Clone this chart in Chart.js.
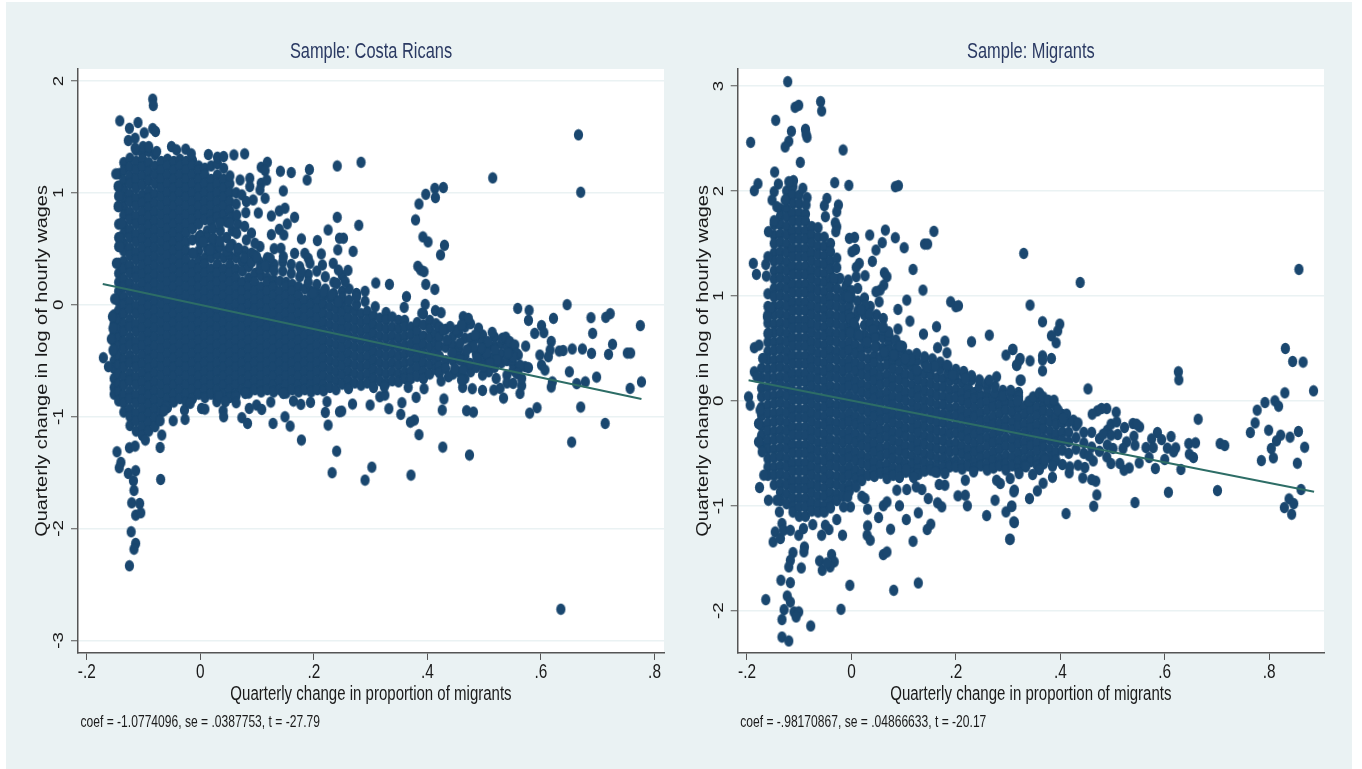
<!DOCTYPE html>
<html>
<head>
<meta charset="utf-8">
<title>Quarterly change in wages and migrants</title>
<script src="https://cdn.jsdelivr.net/npm/chart.js@4/dist/chart.umd.min.js"></script>
<style>
html, body { margin: 0; padding: 0; background: #fff; overflow: hidden; }
#bg { position: absolute; left: 6px; top: 2px; width: 1346px; height: 767px; background: #eaf2f3; }
canvas { position: absolute; top: 0; }
#leftChart { left: 0; }
#rightChart { left: 680px; }
</style>
</head>
<body>
<div id="bg"></div>
<canvas id="leftChart" width="680" height="769"></canvas>
<canvas id="rightChart" width="682" height="769"></canvas>
<script>
const xTickValues = [-0.2, 0, 0.2, 0.4, 0.6, 0.8];
const xTickLabels = ['-.2', '0', '.2', '.4', '.6', '.8'];
const crYTicks = [-3, -2, -1, 0, 1, 2];
const mgYTicks = [-2, -1, 0, 1, 2, 3];
const crTitle = 'Sample: Costa Ricans';
const mgTitle = 'Sample: Migrants';
const crNote = 'coef = -1.0774096, se = .0387753, t = -27.79';
const mgNote = 'coef = -.98170867, se = .04866633, t = -20.17';
const crFit = [[-0.172, 0.185], [0.777, -0.843]];
const mgFit = [[-0.197, 0.197], [0.886, -0.867]];

// dense part of the cloud, each row is x then the y values at that x
const crColumns = [
[-.152,-.09,-.17,-.26,-.33,-.42,-.5,-.57,-.66,-.74,-.8],
[-.144,1.17,1.06,.97,.88,.72,.6,.52,.37,.28,.2,.12,.03,-.05,-.13,-.22,-.3,-.37,-.46,-.54,-.62,-.71,-.78,-.86],
[-.135,1.27,1.2,1.11,1.03,.95,.87,.8,.71,.64,.55,.48,.39,.32,.23,.16,.07,0,-.08,-.17,-.24,-.33,-.4,-.49,-.56,-.65,-.72,-.81,-.88,-.96],
[-.124,1.31,1.23,1.15,1.08,.99,.92,.83,.76,.67,.6,.51,.44,.35,.28,.19,.12,.03,-.04,-.13,-.2,-.29,-.36,-.45,-.52,-.61,-.68,-.77,-.84,-.93,-1,-1.08],
[-.113,1.38,1.28,1.2,1.12,1.04,.95,.88,.79,.72,.63,.56,.47,.4,.31,.24,.15,.08,-.01,-.08,-.17,-.24,-.33,-.4,-.49,-.56,-.65,-.72,-.81,-.88,-.97,-1.04,-1.13],
[-.102,1.36,1.3,1.23,1.15,1.07,.98,.91,.83,.75,.67,.59,.51,.43,.35,.27,.19,.11,.03,-.05,-.13,-.21,-.29,-.37,-.45,-.53,-.61,-.69,-.77,-.85,-.93,-1.01,-1.09,-1.17],
[-.091,1.37,1.27,1.19,1.11,1.02,.95,.87,.79,.71,.63,.55,.47,.39,.31,.23,.15,.07,-.01,-.09,-.17,-.25,-.33,-.41,-.49,-.57,-.65,-.73,-.81,-.89,-.97,-1.05,-1.13],
[-.08,1.34,1.24,1.16,1.08,.99,.91,.83,.75,.67,.59,.51,.43,.35,.27,.19,.11,.03,-.05,-.13,-.21,-.29,-.37,-.45,-.53,-.61,-.69,-.77,-.85,-.93,-1.01,-1.09],
[-.069,1.28,1.2,1.12,1.04,.96,.88,.8,.72,.64,.56,.48,.4,.32,.24,.16,.08,0,-.08,-.16,-.24,-.32,-.4,-.48,-.56,-.64,-.72,-.8,-.88,-.96],
[-.058,1.3,1.24,1.16,1.08,1,.92,.84,.76,.68,.6,.52,.44,.36,.28,.2,.12,.04,-.04,-.12,-.2,-.28,-.36,-.44,-.52,-.6,-.68,-.76,-.84,-.92],
[-.047,1.28,1.2,1.12,1.04,.96,.88,.8,.72,.64,.56,.48,.4,.32,.24,.16,.08,0,-.08,-.16,-.24,-.32,-.4,-.48,-.56,-.64,-.72,-.8,-.87],
[-.036,1.3,1.24,1.16,1.08,1,.92,.84,.76,.68,.6,.52,.44,.36,.28,.2,.12,.04,-.04,-.12,-.2,-.28,-.36,-.44,-.52,-.6,-.68,-.76,-.84],
[-.025,1.28,1.2,1.12,1.04,.96,.88,.8,.72,.64,.56,.48,.4,.32,.24,.16,.08,0,-.08,-.16,-.24,-.32,-.4,-.48,-.56,-.64,-.72,-.8,-.87],
[-.014,1.29,1.24,1.16,1.08,1,.92,.84,.76,.68,.58,.46,.36,.28,.2,.12,.04,-.04,-.12,-.2,-.28,-.36,-.44,-.52,-.6,-.68,-.76,-.84],
[-.003,1.24,1.2,1.12,1.04,.96,.88,.8,.72,.6,.48,.4,.32,.24,.16,.08,0,-.08,-.16,-.24,-.32,-.4,-.48,-.56,-.64,-.72,-.8],
[.008,1.22,1.16,1.08,1,.92,.84,.76,.42,.36,.28,.2,.12,.04,-.04,-.12,-.2,-.28,-.36,-.44,-.52,-.6,-.68,-.76,-.83],
[.019,1.24,1.12,1.04,.96,.88,.8,.74,.42,.32,.24,.16,.08,0,-.08,-.16,-.24,-.32,-.4,-.48,-.56,-.64,-.72,-.8],
[.03,1.26,1.16,1.08,1,.92,.84,.78,.45,.36,.28,.2,.12,.04,-.04,-.12,-.2,-.28,-.36,-.44,-.52,-.6,-.68,-.76,-.84],
[.041,1.22,1.12,1.04,.96,.88,.8,.42,.32,.24,.16,.08,0,-.08,-.16,-.24,-.32,-.4,-.48,-.56,-.64,-.72,-.8],
[.052,1.08,1,.92,.84,.44,.36,.28,.2,.12,.04,-.04,-.12,-.2,-.28,-.36,-.44,-.52,-.6,-.68,-.76,-.83],
[.063,1.0,.9,.42,.32,.24,.16,.08,0,-.08,-.16,-.24,-.32,-.4,-.48,-.56,-.64,-.72,-.8],
[.074,.38,.3,.2,.12,.04,-.04,-.12,-.2,-.28,-.36,-.44,-.52,-.6,-.68,-.76],
[.085,.34,.24,.16,.08,0,-.08,-.16,-.24,-.32,-.4,-.48,-.56,-.64,-.72,-.79],
[.096,.28,.2,.12,.04,-.04,-.12,-.2,-.28,-.36,-.44,-.52,-.6,-.68,-.76],
[.107,.26,.16,.08,0,-.08,-.16,-.24,-.32,-.4,-.48,-.56,-.64,-.72,-.78],
[.118,.24,.2,.12,.04,-.04,-.12,-.2,-.28,-.36,-.44,-.52,-.6,-.68,-.76],
[.129,.22,.16,.08,0,-.08,-.16,-.24,-.32,-.4,-.48,-.56,-.64,-.72,-.78],
[.14,.21,.12,.04,-.04,-.12,-.2,-.28,-.36,-.44,-.52,-.6,-.68,-.76],
[.151,.2,.16,.08,0,-.08,-.16,-.24,-.32,-.4,-.48,-.56,-.64,-.72,-.79],
[.162,.18,.12,.04,-.04,-.12,-.2,-.28,-.36,-.44,-.52,-.6,-.68,-.76],
[.173,.16,.08,0,-.08,-.16,-.24,-.32,-.4,-.48,-.56,-.64,-.72,-.78],
[.184,.14,.04,-.04,-.12,-.2,-.28,-.36,-.44,-.52,-.6,-.68,-.76],
[.195,.12,.08,0,-.08,-.16,-.24,-.32,-.4,-.48,-.56,-.64,-.72,-.78],
[.206,.1,.04,-.04,-.12,-.2,-.28,-.36,-.44,-.52,-.6,-.68,-.76],
[.217,.08,0,-.08,-.16,-.24,-.32,-.4,-.48,-.56,-.64,-.72,-.77],
[.228,.06,-.02,-.1,-.18,-.26,-.34,-.42,-.5,-.58,-.66,-.74],
[.239,.04,-.04,-.12,-.2,-.28,-.36,-.44,-.52,-.6,-.68,-.76],
[.25,.01,-.07,-.15,-.23,-.31,-.39,-.47,-.55,-.63,-.71],
[.261,-.04,-.12,-.2,-.28,-.36,-.44,-.52,-.6,-.68,-.75],
[.272,-.06,-.14,-.22,-.3,-.38,-.46,-.54,-.62,-.7],
[.283,-.08,-.16,-.24,-.32,-.4,-.48,-.56,-.64,-.72],
[.294,-.06,-.14,-.22,-.3,-.38,-.46,-.54,-.62,-.7],
[.305,-.1,-.18,-.26,-.34,-.42,-.5,-.58,-.66,-.74],
[.316,-.12,-.2,-.28,-.36,-.44,-.52,-.6,-.68],
[.327,-.07,-.14,-.22,-.3,-.38,-.46,-.54,-.62,-.7],
[.338,-.11,-.2,-.28,-.36,-.44,-.52,-.6,-.68],
[.349,-.14,-.22,-.3,-.38,-.46,-.54,-.62,-.69],
[.36,-.14,-.2,-.28,-.36,-.44,-.52,-.6,-.66],
[.371,-.2,-.27,-.35,-.43,-.51,-.59,-.66],
[.382,-.16,-.24,-.32,-.4,-.48,-.56,-.64],
[.393,-.08,-.18,-.28,-.36,-.44,-.52,-.6,-.66],
[.404,-.14,-.22,-.3,-.38,-.46,-.54,-.62],
[.415,-.17,-.26,-.34,-.42,-.5,-.58],
[.421,-.2,-.29,-.37,-.46,-.55,-.61],
[.432,-.22,-.38,-.5,-.57],
[.445,-.28,-.36,-.5,-.62],
[.455,-.25,-.4,-.47,-.6],
[.466,-.2,-.3,-.46,-.55,-.66],
[.476,-.17,-.3,-.38,-.6],
[.486,-.3,-.44,-.56],
[.497,-.27,-.34,-.47,-.5],
[.508,-.38,-.48,-.6],
[.518,-.29,-.37,-.46,-.56],
[.53,-.35,-.44,-.52],
[.54,-.38,-.5,-.63,-.7],
[.55,-.4,-.52],
[.56,-.45,-.58],
[0,.62,.55],
[.012,.66,.6,.5],
[.022,.68,.5,.56],
[.035,.66,.52],
[.046,.74,.6,.48],
[.056,.78,.66,.54],
[.066,.72,.48],
[.078,.7,.48,.42],
[.09,.64,.46,.38],
[.105,.52,.38,.32],
[.118,.42,.33],
[.13,.5,.36,.3],
[.145,.38,.3],
[.16,.36,.28],
[.175,.34,.25],
[.19,.27,.2],
[.205,.3,.18],
[.22,.25,.14],
[.235,.2,.1],
[.25,.26,.12,.06],
[.262,.14,.04],
[.275,.1,0],
[.29,.03]
];

// points that stand apart from the dense part
const crOutliersX = [.666,.67,.515,.283,.428,.413,.414,.397,.385,.379,.392,.401,.43,.423,.383,.388,.394,.397,.413,.279,.252,.269,.26,.255,.309,.333,.29,.275,.363,.359,.308,.396,.414,.424,.39,.559,.579,.578,.646,.622,.688,.722,.714,.601,.605,.589,.775,.691,.726,.618,.573,.655,.673,.632,.639,.689,.719,.752,.758,.616,.613,.598,.601,.607,.65,.698,.678,.663,.62,.618,.777,.757,.67,.593,.58,.713,.654,.474,.427,.385,.377,.37,.353,.332,.299,.268,.249,.355,.38,.429,.426,.469,.481,.534,.563,.566,.551,.479,.497,.517,.528,.462,.394,.366,.316,.325,.324,.437,.424,.497,.521,
.463,.472,.49,.514,.506,.484,.532,.538,.545,.554,.557,.551,.542,.519,.522,.504,.495,.481,.469,.457,.451,.46,.44,.428,.434,.443,.457,.475,.487,.448,.463,.46,.498,.51,.551,.572,.578,.563,.557,.566,
-.084,-.083,-.142,-.11,-.084,-.079,-.099,-.125,-.127,-.115,-.101,-.091,-.115,-.051,-.042,-.026,-.016,.014,.03,.041,.059,.078,-.077,.107,.118,.114,.141,.16,.192,.188,.241,.087,.087,.107,.117,.105,.114,.093,.146,.052,.07,.073,.081,.08,.102,.125,.139,.149,.166,.153,.139,.147,.125,.178,.206,.225,.241,.245,.064,.081,.096,.052,.034,.064,.052,.067,.096,.099,.023,.034,-.001,.017,.005,-.013,.142,.166,.184,.213,.19,.193,.215,.234,.242,.123,.146,.114,.178,.243,.24,.217,.231,.243,.199,
-.149,-.145,-.143,-.145,-.139,-.142,-.142,-.148,-.151,-.155,-.154,-.157,-.171,-.162,-.154,
-.147,-.14,-.143,-.127,-.114,-.118,-.117,-.121,-.107,-.114,-.105,-.122,-.114,-.117,-.125,-.07,-.071,-.068,-.125,-.115,-.097,-.071,-.061,-.064,-.048,-.027,-.028,-.018,.002,.008,.029,.032,.044,.04,.041,.062,.063,.079,.073,.083,.086,.099,.108,.124,.128,.149,.158,.164,.177,.194,.178,.22,.225,.223,.24,.232,.146,.245,.29,.302,.371,.635];
const crOutliersY = [1.518,1.005,1.133,1.273,1.047,1.04,.957,.987,.9,.758,.606,.561,.531,.445,.343,.31,.295,.182,.137,.71,.594,.477,.307,.206,.194,.182,.12,.072,.072,-.024,-.018,.003,-.053,-.071,-.077,-.033,-.05,-.14,0,-.122,-.116,-.08,-.113,-.187,-.25,-.256,-.187,-.256,-.354,-.328,-.37,-.396,-.396,-.414,-.41,-.435,-.444,-.432,-.432,-.405,-.465,-.45,-.54,-.584,-.6,-.647,-.69,-.706,-.69,-.736,-.69,-.748,-.915,-.921,-.969,-1.061,-1.228,-1.344,-1.273,-1.162,-1.031,-1.05,-.98,-.93,-.897,-.888,-.951,-.876,-.828,-.843,-.942,-.948,-.96,-.835,-.793,-.724,-.703,-.751,-.766,-.763,-.748,-.739,-.751,-.739,-.823,-.808,-.733,-.644,-.682,-.629,-.659,
-.107,-.122,-.21,-.247,-.33,-.27,-.3,-.29,-.33,-.36,-.435,-.465,-.435,-.405,-.495,-.435,-.39,-.375,-.405,-.345,-.227,-.18,-.195,-.227,-.315,-.435,-.495,-.525,-.48,-.57,-.584,-.673,-.554,-.525,-.584,-.554,-.563,-.54,-.614,-.659,
1.837,1.78,1.643,1.628,1.574,1.548,1.536,1.577,1.467,1.488,1.413,1.413,1.4,1.413,1.384,1.39,1.348,1.342,1.318,1.324,1.339,1.348,1.369,1.229,1.273,1.199,1.193,1.181,1.208,1.115,1.24,1.13,1.056,1.085,1.115,1.026,.951,.936,1.017,1.151,1.115,.981,.922,.823,.82,.793,.838,.862,.781,.722,.674,.623,.626,.588,.573,.668,.781,.594,.638,.579,.549,.728,.728,.802,.519,.504,.444,.43,.594,.573,.608,.489,.564,.459,.504,.459,.459,.454,.415,.37,.355,.37,.49,.415,.43,.349,.295,.31,.19,.117,.087,.027,.102,
1.169,1.056,.975,.877,.728,.594,.519,.37,.051,-.107,-.211,-.307,-.474,-.554,-.405,
-1.315,-1.41,-1.458,-1.508,-1.484,-1.574,-1.66,-1.771,-1.777,-1.881,-1.86,-2.03,-2.134,-2.185,-2.334,-1.562,-1.276,-1.165,-1.279,-1.264,-1.21,-1.037,-.912,-.948,-1.037,-1.025,-.942,-.882,-.927,-.933,-.867,-.817,-.867,-.948,-1.002,-.823,-.876,-.793,-1.01,-1.061,-.927,-.897,-.936,-.87,-1.061,-1.002,-1.085,-.861,-.891,-.873,-1.21,-.963,-1.076,-.867,-1.309,-1.502,-.793,-.957,-1.568,-1.452,-1.523,-2.722];

const mgColumns = [
[-.172,.31,.22,.12,.04,-.06,-.14,-.24,-.33,-.42],
[-.16,1.02,.9,.82,.74,.64,.56,.47,.39,.3,.22,.13,.05,-.04,-.12,-.21,-.29,-.38,-.46,-.55,-.63,-.71],
[-.148,1.68,1.58,1.5,1.41,1.33,1.24,1.16,1.07,.99,.9,.82,.73,.65,.56,.48,.39,.31,.22,.14,.05,-.03,-.12,-.2,-.29,-.37,-.46,-.54,-.63,-.71,-.8],
[-.136,1.83,1.76,1.68,1.59,1.51,1.42,1.34,1.25,1.17,1.08,1,.91,.83,.74,.66,.57,.49,.4,.32,.23,.15,.06,-.02,-.11,-.19,-.28,-.36,-.45,-.53,-.62,-.7,-.79,-.87,-.95],
[-.124,2,1.92,1.83,1.75,1.66,1.58,1.49,1.41,1.32,1.24,1.15,1.07,.98,.9,.81,.73,.64,.56,.47,.39,.3,.22,.13,.05,-.04,-.12,-.21,-.29,-.38,-.46,-.55,-.63,-.72,-.8,-.89,-.98],
[-.112,2.04,1.96,1.88,1.79,1.71,1.62,1.54,1.45,1.37,1.28,1.2,1.11,1.03,.94,.86,.77,.69,.6,.52,.43,.35,.26,.18,.09,.01,-.08,-.16,-.25,-.33,-.42,-.5,-.59,-.67,-.76,-.84,-.93,-1.01,-1.06],
[-.1,1.96,1.88,1.79,1.71,1.62,1.54,1.45,1.37,1.28,1.2,1.11,1.03,.94,.86,.77,.69,.6,.52,.43,.35,.26,.18,.09,.01,-.08,-.16,-.25,-.33,-.42,-.5,-.59,-.67,-.76,-.84,-.93,-1.01,-1.1],
[-.088,1.78,1.71,1.62,1.54,1.45,1.37,1.28,1.2,1.11,1.03,.94,.86,.77,.69,.6,.52,.43,.35,.26,.18,.09,.01,-.08,-.16,-.25,-.33,-.42,-.5,-.59,-.67,-.76,-.84,-.93,-1.01,-1.1],
[-.076,1.66,1.58,1.5,1.41,1.33,1.24,1.16,1.07,.99,.9,.82,.73,.65,.56,.48,.39,.31,.22,.14,.05,-.03,-.12,-.2,-.29,-.37,-.46,-.54,-.63,-.71,-.8,-.88,-.97,-1.05],
[-.064,1.65,1.56,1.47,1.39,1.3,1.22,1.13,1.05,.96,.88,.79,.71,.62,.54,.45,.37,.28,.2,.11,.03,-.06,-.14,-.23,-.31,-.4,-.48,-.57,-.65,-.74,-.82,-.91,-.99,-1.06],
[-.052,1.56,1.47,1.38,1.3,1.21,1.13,1.04,.96,.87,.79,.7,.62,.53,.45,.36,.28,.19,.11,.02,-.06,-.15,-.23,-.32,-.4,-.49,-.57,-.66,-.74,-.83,-.91,-1,-1.06],
[-.04,1.5,1.42,1.33,1.25,1.16,1.08,.99,.91,.82,.74,.65,.57,.48,.4,.31,.23,.14,.06,-.03,-.11,-.2,-.28,-.37,-.45,-.54,-.62,-.71,-.79,-.88,-.96,-1.02],
[-.028,1.36,1.27,1.16,1.07,.98,.9,.81,.73,.64,.56,.47,.39,.3,.22,.13,.05,-.04,-.12,-.21,-.29,-.38,-.46,-.55,-.63,-.72,-.8,-.89,-.95],
[-.016,1.04,.96,.87,.79,.7,.62,.53,.45,.36,.28,.19,.11,.02,-.06,-.15,-.23,-.32,-.4,-.49,-.57,-.66,-.74,-.83,-.91],
[-.004,.9,.82,.73,.65,.56,.48,.39,.31,.22,.14,.05,-.03,-.12,-.2,-.29,-.37,-.46,-.54,-.63,-.71,-.8,-.86],
[.008,.8,.7,.62,.53,.45,.36,.28,.19,.11,.02,-.06,-.15,-.23,-.32,-.4,-.49,-.57,-.66,-.74],
[.02,.6,.5,.42,.33,.25,.16,.08,-.01,-.09,-.18,-.26,-.35,-.43,-.52,-.6,-.69,-.76],
[.032,.5,.4,.31,.23,.14,.06,-.03,-.11,-.2,-.28,-.37,-.45,-.54,-.62,-.71],
[.044,.43,.36,.27,.19,.1,.02,-.07,-.15,-.24,-.32,-.41,-.49,-.58,-.66,-.72],
[.056,.42,.32,.23,.15,.06,-.02,-.11,-.19,-.28,-.36,-.45,-.53,-.62,-.69],
[.068,.41,.34,.25,.17,.08,0,-.09,-.17,-.26,-.34,-.43,-.51,-.6,-.68,-.74],
[.08,.38,.3,.21,.13,.04,-.04,-.13,-.21,-.3,-.38,-.47,-.55,-.64,-.71],
[.092,.37,.28,.2,.11,.03,-.06,-.14,-.23,-.31,-.4,-.48,-.57,-.65,-.73],
[.104,.34,.25,.17,.08,0,-.09,-.17,-.26,-.34,-.43,-.51,-.6,-.68],
[.116,.32,.24,.15,.07,-.02,-.1,-.19,-.27,-.36,-.44,-.53,-.61,-.69],
[.128,.28,.2,.11,.03,-.06,-.14,-.23,-.31,-.4,-.48,-.57,-.65,-.7],
[.14,.26,.17,.09,0,-.08,-.17,-.25,-.34,-.42,-.51,-.59,-.67],
[.152,.24,.16,.07,-.01,-.1,-.18,-.27,-.35,-.44,-.52,-.61,-.66],
[.164,.22,.13,.05,-.04,-.12,-.21,-.29,-.38,-.46,-.55,-.63,-.68],
[.176,.21,.13,.04,-.04,-.13,-.21,-.3,-.38,-.47,-.55,-.63],
[.188,.19,.1,.02,-.07,-.15,-.24,-.32,-.41,-.49,-.58,-.63],
[.2,.2,.11,.03,-.06,-.14,-.23,-.31,-.4,-.48,-.57,-.63],
[.212,.17,.08,0,-.09,-.17,-.26,-.34,-.43,-.51,-.6,-.65],
[.224,.12,.05,-.03,-.12,-.2,-.29,-.37,-.46,-.54,-.62],
[.236,.08,.02,-.07,-.15,-.24,-.32,-.41,-.49,-.58,-.64],
[.248,.05,-.03,-.12,-.2,-.29,-.37,-.46,-.54,-.62],
[.26,.06,-.01,-.09,-.18,-.26,-.35,-.43,-.52,-.6,-.66],
[.272,.02,-.06,-.15,-.23,-.32,-.4,-.49,-.57,-.64],
[.284,.04,-.04,-.12,-.21,-.29,-.38,-.46,-.55,-.62],
[.296,-.01,-.09,-.18,-.26,-.35,-.43,-.52,-.6,-.66],
[.308,-.03,-.11,-.2,-.28,-.37,-.45,-.54,-.62],
[.32,.01,-.07,-.16,-.24,-.33,-.41,-.5,-.58,-.65],
[.332,-.05,-.13,-.22,-.3,-.39,-.47,-.56,-.62],
[.344,-.01,-.09,-.18,-.26,-.35,-.43,-.52,-.58],
[.356,.03,-.06,-.14,-.23,-.31,-.4,-.48,-.57,-.62],
[.368,-.02,-.1,-.19,-.27,-.36,-.44,-.53,-.6],
[.38,-.03,-.12,-.2,-.29,-.37,-.46,-.54],
[.392,-.06,-.15,-.23,-.32,-.4,-.49,-.57],
[.404,-.13,-.21,-.3,-.38,-.47],
[.416,-.2,-.3,-.39,-.5],
[.43,-.24,-.35,-.46],
[.445,-.3,-.4,-.5],
[.46,-.3,-.44],
[.475,-.36,-.48],
[.49,-.28,-.42],
[-.01,1.1,1],
[0,.98,1.05,.75],
[.012,.95,.86,.64],
[.025,.82,.72,.63,.98],
[.036,.7,.6,.76,.9],
[.048,.62,.52,.72,.82],
[.06,.6,.5,.68],
[.072,.55,.48,.62],
[.085,.5,.58,.44],
[.098,.46,.52],
[.11,.44,.38],
[.125,.38,.45],
[.14,.36,.42],
[.155,.32,.4],
[.17,.3,.37],
[.185,.27,.33],
[.2,.3,.26],
[.215,.25,.28],
[.23,.2,.24],
[.245,.14,.2],
[.26,.12,.17],
[.275,.08,.14],
[.29,.1,.05],
[.305,.06,.1],
[.32,.08,.04]
];

const mgOutliersX = [-.122,-.059,-.057,-.108,-.101,-.145,-.115,-.088,-.085,-.087,-.12,-.127,-.193,-.016,-.098,-.147,-.179,-.186,-.032,-.005,.084,.09,-.111,-.12,-.14,-.093,-.085,-.148,-.152,-.143,-.127,-.087,-.047,-.052,-.025,-.028,-.05,-.031,-.028,-.03,.065,.035,.084,.006,-.004,.059,.047,.101,.14,.146,.158,.008,.001,.04,.015,.009,.118,.063,.068,.026,.009,-.006,-.022,-.034,.062,.055,.047,.012,.137,.106,.19,.2,.205,.089,.053,.034,.026,.019,-.006,-.002,.005,-.002,.014,.061,.112,.163,.089,.071,.061,.042,.138,.23,.264,.179,.165,.183,.093,.045,.045,.029,.183,.16,.296,.309,.317,.323,.194,.278,.264,.323,.218,.144,.125,.114,.103,.063,.081,-.188,-.182,-.164,-.163,-.159,-.148,-.16,-.155,-.161,-.159,-.186,-.177,-.17,-.186,-.181,
-.197,-.194,-.178,-.178,-.168,-.176,-.159,-.175,-.171,-.143,-.138,-.133,-.146,-.15,-.136,-.13,-.117,-.101,-.092,-.074,-.057,-.043,-.05,-.028,-.017,-.002,-.015,-.007,.009,.02,.026,.031,.052,.061,.068,.092,.031,.03,.036,.075,.105,.128,.147,.165,.173,.152,.145,.118,.061,.068,.081,.128,-.003,-.02,-.09,-.091,-.112,-.117,-.12,-.096,-.061,-.056,-.038,-.033,-.041,-.047,-.135,-.117,-.123,-.117,-.129,-.164,-.133,-.11,-.101,-.106,-.078,-.133,-.12,.204,.218,.222,.259,.275,.296,.307,.312,.303,.312,.285,.278,.179,.168,.135,.124,.106,.087,.119,.218,.234,.304,.16,.179,.105,
.33,.438,.857,.342,.366,.399,.395,.383,.392,.309,.322,.316,.342,.366,.366,.383,.366,.325,.453,.626,.627,.831,.845,.865,.885,.83,.792,.811,.818,.777,.773,.764,.799,.856,.84,.822,.814,.804,.808,.785,.868,.854,.664,.706,.715,.701,.607,.543,.861,.838,.847,.829,.843,.411,.47,.464,.468,.46,.443,.417,.385,.367,.356,.341,.311,.307,.311,.304,.507,.489,.479,.471,.461,.497,.508,.523,.539,.552,.546,.586,.612,.575,.594,.541,.527,.543,.52,.51,.497,.482,.564,.578,.605,.621,.617,.646,.659,.647,.655,.57,.6,.551,.582,.631,.532,.522,.514,.497,.489,.501,.463,.447,.434,.404,.385,.371,.36,.347,.334,.321,.455,.418,.318,.34,.348,.36,.367,.377,.388,.396,.412,.425,.434,.406];
const mgOutliersY = [3.041,2.851,2.762,2.797,2.816,2.673,2.568,2.587,2.511,2.543,2.473,2.419,2.463,2.39,2.272,2.18,2.069,2.002,2.079,2.053,2.04,2.05,2.098,2.088,2.066,2.025,1.936,1.993,1.913,1.85,1.913,1.866,1.929,1.859,1.866,1.802,1.755,1.697,1.659,1.612,1.627,1.58,1.554,1.558,1.548,1.507,1.437,1.459,1.494,1.494,1.615,1.443,1.421,1.329,1.31,1.272,1.252,1.221,1.183,1.192,1.183,1.151,1.167,1.167,1.103,1.055,1.04,1.071,1.055,.96,.944,.897,.906,.871,.944,.833,.912,.865,.992,.785,.738,.649,.626,.785,.76,.706,.684,.658,.706,.674,.636,.563,.626,.569,.506,.458,.525,.595,.515,.557,.34,.331,.436,.49,.34,.404,.245,.229,.197,.197,.213,.325,.293,.394,.404,.468,.436,1.31,1.205,1.3,1.189,1.612,1.716,1.373,.881,.801,.642,.506,.531,.404,.277,.229,
.038,-.041,-.216,-.39,-.708,-.826,-.947,-.089,-.486,-.947,-1.058,-1.169,-1.249,-1.344,-1.312,-1.233,-1.233,-1.28,-1.217,-1.179,-1.28,-1.226,-1.185,-1.131,-1.28,-1.01,-1.01,-.915,-.82,-.909,-.931,-1.032,-1.112,-1,-.963,-1,-1.191,-1.28,-1.328,-1.223,-1.131,-1.067,-.931,-.972,-1.01,-1.175,-1.226,-1.338,-1.465,-1.44,-1.805,-1.735,-1.757,-1.986,-1.392,-1.439,-1.446,-1.519,-1.582,-1.592,-1.525,-1.614,-1.465,-1.534,-1.582,-1.544,-1.709,-1.732,-1.859,-1.916,-1.989,-1.894,-2.084,-2.011,-2.011,-2.059,-2.145,-2.25,-2.288,-.905,-.899,-1,-1.093,-.947,-1.058,-1.004,-1.16,-1.319,-.851,-.788,-.756,-.804,-.797,-.845,-.82,-.845,-.851,-.73,-.756,-.677,-.74,-.677,-.692,-.654,
1.405,1.128,1.252,.912,.753,.731,.667,.62,.553,.49,.388,.34,.381,.429,.388,.404,.286,.197,.114,.277,.2,.499,.375,.369,.095,.076,-.016,0,-.051,-.089,-.21,-.302,-.28,-.292,-.346,-.327,-.381,-.454,-.543,-.569,-.442,-.594,-.175,-.407,-.426,-.855,-.871,-.969,-.845,-.934,-.979,-1.017,-1.08,-1.074,-.896,-1.004,-.766,-.75,-.734,-.686,-.728,-.785,-.858,-.931,-.867,-1.004,-1.153,-1.319,-.108,-.073,-.073,-.095,-.127,-.222,-.2,-.254,-.216,-.248,-.222,-.302,-.34,-.362,-.369,-.337,-.391,-.423,-.454,-.321,-.327,-.318,-.445,-.445,-.451,-.448,-.486,-.407,-.4,-.508,-.54,-.54,-.559,-.591,-.645,-.654,-.639,-.661,-.597,-.597,-.534,-.454,-.572,-.635,-.613,-.607,-.623,-.559,-.655,-.702,-.629,-.693,-.524,-.629,-.003,-.003,.038,.076,.038,.006,.006,-.089,-.127,-.184,-.21,-.168];

const navy = '#1a476f';
const lineGreen = '#2d6d66';
const fontFamily = '"Liberation Sans", sans-serif';
const textColor = '#1a1a1a';
const textSqueeze = 0.77;
const rotatedStretch = 1.21;

// stata markers come out as slightly tall ovals in this picture
const dot = document.createElement('canvas');
dot.width = 11;
dot.height = 13;
const dotCtx = dot.getContext('2d');
dotCtx.fillStyle = navy;
dotCtx.beginPath();
dotCtx.ellipse(5.5, 6.5, 4.6, 5.7, 0, 0, Math.PI * 2);
dotCtx.fill();

const plotBackground = {
    id: 'plotBackground',
    // the reference picture was stretched upward: level text is narrow, rotated text is long
    beforeInit(chart) {
        const ctx = chart.ctx;
        const fill = ctx.fillText.bind(ctx);
        ctx.fillText = (text, x, y) => {
            if (ctx.getTransform().b === 0) {
                fill(text, x, y, ctx.measureText(text).width * textSqueeze);
            } else {
                ctx.save();
                ctx.scale(rotatedStretch, 1);
                fill(text, x / rotatedStretch, y);
                ctx.restore();
            }
        };
    },
    afterLayout(chart) {
        chart.boxes.filter(b => b.options.align === 'start').forEach(b => { b.left += 2.5; });
    },
    beforeDraw(chart) {
        const a = chart.chartArea;
        chart.ctx.save();
        chart.ctx.fillStyle = '#fff';
        chart.ctx.fillRect(a.left, a.top, a.width, a.height);
        chart.ctx.restore();
    }
};

const toPoints = (columns, outX, outY) => {
    const points = [];
    columns.forEach(row => {
        for (let i = 1; i < row.length; i++) {
            points.push({ x: row[0], y: row[i] });
        }
    });
    outX.forEach((x, i) => points.push({ x: x, y: outY[i] }));
    return points;
};

const makePanel = (id, cfg) => new Chart(document.getElementById(id), {
    type: 'scatter',
    plugins: [plotBackground],
    data: {
        datasets: [{
            type: 'line',
            data: cfg.fit.map(p => ({ x: p[0], y: p[1] })),
            borderColor: lineGreen,
            borderWidth: 2,
            pointRadius: 0,
            fill: false,
            order: 0
        }, {
            data: cfg.points,
            pointStyle: dot,
            pointRadius: 5,
            order: 1
        }]
    },
    options: {
        responsive: false,
        animation: false,
        events: [],
        layout: { padding: { left: 0, right: cfg.rightPad, top: 0, bottom: 0 } },
        plugins: {
            legend: { display: false },
            tooltip: { enabled: false },
            title: {
                display: true,
                fullSize: false,
                text: cfg.title,
                color: '#2b3a63',
                font: { family: fontFamily, size: 21.3, weight: 'normal', lineHeight: 1.2 },
                padding: { top: 39.2, bottom: 4.2 }
            },
            subtitle: {
                display: true,
                fullSize: false,
                position: 'bottom',
                align: 'start',
                text: cfg.note,
                color: textColor,
                font: { family: fontFamily, size: 15.7, weight: 'normal', lineHeight: 1.2 },
                padding: { top: 3.5, bottom: 37 }
            }
        },
        scales: {
            x: {
                type: 'linear',
                min: cfg.xMin,
                max: cfg.xMax,
                afterFit: s => { s.height = 56.7; },
                afterBuildTicks: s => { s.ticks = xTickValues.map(v => ({ value: v })); },
                border: { display: true, color: '#555', width: 1.5 },
                grid: { drawOnChartArea: false, tickColor: '#555', tickLength: 7, tickWidth: 1 },
                ticks: {
                    color: textColor,
                    font: { family: fontFamily, size: 20 },
                    padding: 1,
                    maxRotation: 0,
                    autoSkip: false,
                    callback: v => xTickLabels[xTickValues.indexOf(v)]
                },
                title: {
                    display: true,
                    text: 'Quarterly change in proportion of migrants',
                    color: textColor,
                    font: { family: fontFamily, size: 19.5, lineHeight: 1.2 },
                    padding: { top: 0, bottom: 3.4 }
                }
            },
            y: {
                type: 'linear',
                min: cfg.yMin,
                max: cfg.yMax,
                afterFit: s => { s.width = cfg.axisWidth; },
                afterBuildTicks: s => { s.ticks = cfg.yTicks.map(v => ({ value: v })); },
                border: { display: true, color: '#555', width: 1.5 },
                grid: { color: '#eaf2f3', lineWidth: 1.5, tickColor: '#555', tickLength: 7, tickWidth: 1 },
                ticks: {
                    color: textColor,
                    font: { family: fontFamily, size: 15.5 },
                    minRotation: 90,
                    maxRotation: 90,
                    crossAlign: 'center',
                    padding: cfg.tickPad,
                    autoSkip: false,
                    callback: v => String(v)
                },
                title: {
                    display: true,
                    text: 'Quarterly change in log of hourly wages',
                    color: textColor,
                    font: { family: fontFamily, size: 16.5, lineHeight: 1.2 },
                    padding: { top: cfg.titlePad, bottom: 0 }
                }
            }
        }
    }
});

makePanel('leftChart', {
    title: crTitle, note: crNote, fit: crFit, yTicks: crYTicks,
    points: toPoints(crColumns, crOutliersX, crOutliersY),
    xMin: -0.2156, xMax: 0.8167, yMin: -3.113, yMax: 2.107,
    axisWidth: 78, rightPad: 16, tickPad: 5, titlePad: 33
});

makePanel('rightChart', {
    title: mgTitle, note: mgNote, fit: mgFit, yTicks: mgYTicks,
    points: toPoints(mgColumns, mgOutliersX, mgOutliersY),
    xMin: -0.2178, xMax: 0.905, yMin: -2.402, yMax: 3.162,
    axisWidth: 57.7, rightPad: 38, tickPad: 5.4, titlePad: 13.5
});
</script>
</body>
</html>
